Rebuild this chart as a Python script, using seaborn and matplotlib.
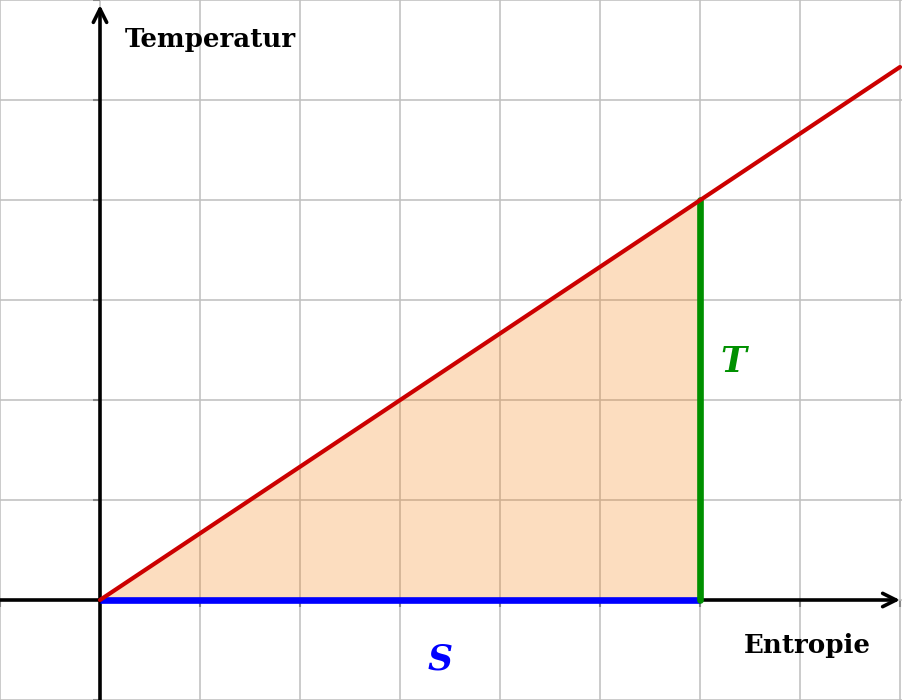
"""
T-S diagram: area under the temperature line as heat.
"""

import matplotlib
matplotlib.use("Agg")
import matplotlib.pyplot as plt
import seaborn as sns

# ── Data ─────────────────────────────────────────────────────────────────────
line_s = [0.0, 8.0]          # red line, entropy
line_t = [0.0, 5.33]         # red line, temperature
area_s = [0.0, 6.0]          # filled triangle
area_t = [0.0, 4.0]
t_bar_s = [6.0, 6.0]         # green segment (T)
t_bar_t = [0.0, 4.0]
s_bar_s = [0.0, 6.0]         # blue segment (S)
s_bar_t = [0.0, 0.0]
grid_x = list(range(-1, 9))
grid_y = list(range(-1, 7))

RED = "#cc0000"
GREEN = "#009000"
BLUE = "#0000ff"
FILL = "#f77b03"
GRID = "#c0c0c0"
SERIF = ["DejaVu Serif", "Liberation Serif"]

sns.set_style("white")

fig = plt.figure(figsize=(9.02, 7.0), dpi=100)
ax = fig.add_axes([0, 0, 1, 1])
ax.set_xlim(-1, 8.02)
ax.set_ylim(-1, 6)

# grid + small ticks on the axes through the origin
ax.set_xticks(grid_x)
ax.set_yticks(grid_y)
ax.set_xticklabels([])
ax.set_yticklabels([])
ax.grid(True, color=GRID, lw=1.15, zorder=0)
for side in ["top", "right", "left", "bottom"]:
    ax.spines[side].set_visible(False)
ax.spines["left"].set_position(("data", 0))
ax.spines["bottom"].set_position(("data", 0))
ax.tick_params(direction="out", length=5, width=1.5, color="#888888",
               left=True, bottom=True)

# axes with arrows
arrow = dict(arrowstyle="->", lw=2.6, color="black",
             mutation_scale=24, shrinkA=0, shrinkB=0)
ax.annotate("", xy=(8.0, 0), xytext=(-1, 0), arrowprops=arrow, zorder=3)
ax.annotate("", xy=(0, 5.95), xytext=(0, -1), arrowprops=arrow, zorder=3)

# area and lines
ax.fill_between(area_s, area_t, 0, color=FILL, alpha=0.25, lw=0, zorder=2)
sns.lineplot(x=s_bar_s, y=s_bar_t, color=BLUE, lw=4.8, ax=ax, zorder=4,
             sort=False, estimator=None, solid_capstyle="butt")
sns.lineplot(x=t_bar_s, y=t_bar_t, color=GREEN, lw=4.8, ax=ax, zorder=5,
             sort=False, estimator=None, solid_capstyle="round")
sns.lineplot(x=line_s, y=line_t, color=RED, lw=3.0, ax=ax, zorder=6,
             sort=False, estimator=None, solid_capstyle="round")

# labels
ax.text(0.25, 5.6, "Temperatur", fontsize=18.8, family=SERIF,
        weight="bold", color="black", ha="left", va="center")
ax.text(7.07, -0.45, "Entropie", fontsize=18.8, family=SERIF,
        weight="bold", color="black", ha="center", va="center")
ax.text(3.4, -0.6, "S", fontsize=25, family=SERIF, weight="bold",
        style="italic", color=BLUE, ha="center", va="center")
ax.text(6.33, 2.38, "T", fontsize=25, family=SERIF, weight="bold",
        style="italic", color=GREEN, ha="center", va="center")

ax.set_xlabel("")
ax.set_ylabel("")
fig.savefig("out.png", dpi=100)
plt.close(fig)
